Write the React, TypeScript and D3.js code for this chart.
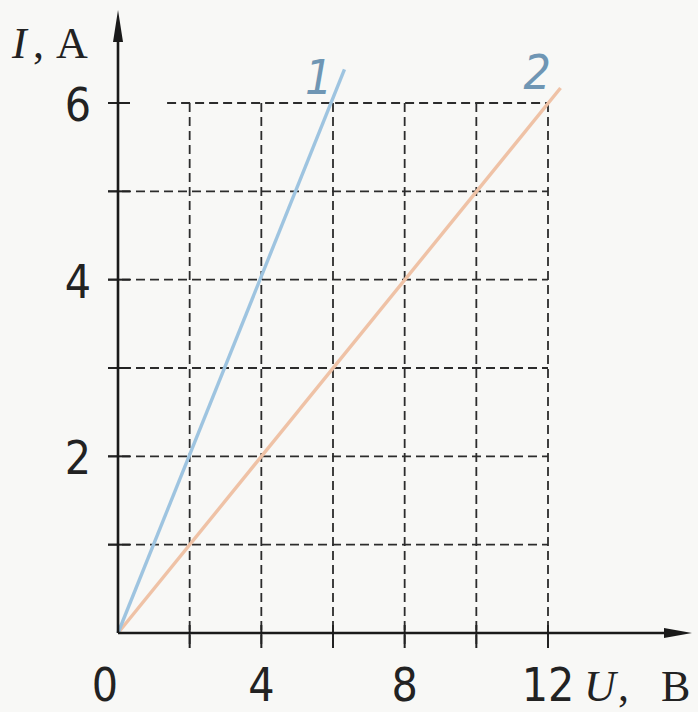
import React from 'react';
import * as d3 from 'd3';

// values
const uTickLabels = [0, 4, 8, 12];
const iTickLabels = [2, 4, 6];
const uGrid = [2, 4, 6, 8, 10, 12];
const iGrid = [1, 2, 3, 4, 5, 6];
const curve1 = [
  { u: 0, i: 0 },
  { u: 6.32, i: 6.38 },
];
const curve2 = [
  { u: 0, i: 0 },
  { u: 12.35, i: 6.17 },
];
const curveLabels = [
  { text: '1', u: 5.6, i: 6.3 },
  { text: '2', u: 11.7, i: 6.35 },
];

const W = 698;
const H = 712;
const sans = "'Liberation Sans Narrow', 'DejaVu Sans Condensed', Arial, sans-serif";
const serif = "'Liberation Serif', 'Times New Roman', serif";

export default function App() {
  const x = d3.scaleLinear().domain([0, 12]).range([118, 548]);
  const y = d3.scaleLinear().domain([0, 6]).range([633, 103]);

  const line = d3
    .line<{ u: number; i: number }>()
    .x(d => x(d.u))
    .y(d => y(d.i));

  const gridColor = '#2c2c2c';
  const dash = '9 5';

  return (
    <div style={{ position: 'absolute', left: 0, top: 0 }}>
      <svg width={W} height={H} style={{ display: 'block', background: '#f8f8f6' }}>
        {/* horizontal grid */}
        {iGrid.map(v => (
          <g key={'h' + v}>
            <line
              x1={v === 6 ? x(1.37) : x(0) - 10}
              x2={x(12)}
              y1={y(v)}
              y2={y(v)}
              stroke={gridColor}
              strokeWidth={1.8}
              strokeDasharray={dash}
            />
            <line x1={x(0) - 10} x2={x(0) + 12} y1={y(v)} y2={y(v)} stroke="#222" strokeWidth={2} />
          </g>
        ))}
        {/* vertical grid */}
        {uGrid.map(v => (
          <line
            key={'v' + v}
            x1={x(v)}
            x2={x(v)}
            y1={y(6)}
            y2={y(0) + 15}
            stroke={gridColor}
            strokeWidth={1.8}
            strokeDasharray={dash}
          />
        ))}
        {uGrid.map(v => (
          <line key={'t' + v} x1={x(v)} x2={x(v)} y1={y(0) - 8} y2={y(0) + 15} stroke="#222" strokeWidth={2} />
        ))}

        {/* curves */}
        <path d={line(curve2) ?? ''} fill="none" stroke="#efc2a6" strokeWidth={3.4} />
        <path d={line(curve1) ?? ''} fill="none" stroke="#9ec4e0" strokeWidth={3.4} />

        {/* axes */}
        <line x1={x(0)} x2={x(0)} y1={y(0)} y2={38} stroke="#1a1a1a" strokeWidth={2.6} />
        <path d={`M${x(0)},10 L${x(0) - 5},42 L${x(0) + 5},42 Z`} fill="#1a1a1a" />
        <line x1={x(0)} x2={668} y1={y(0)} y2={y(0)} stroke="#1a1a1a" strokeWidth={2.6} />
        <path d={`M692,${y(0)} L664,${y(0) - 5} L664,${y(0) + 5} Z`} fill="#1a1a1a" />

        {/* tick labels */}
        {iTickLabels.map(v => (
          <text
            key={'il' + v}
            x={x(0) - 27}
            y={y(v) + 18}
            textAnchor="end"
            fontFamily={sans}
            fontSize={46}
            fill="#222"
          >
            {v}
          </text>
        ))}
        {uTickLabels.map(v => (
          <text
            key={'ul' + v}
            x={v === 0 ? x(0) - 13 : x(v)}
            y={701}
            textAnchor="middle"
            fontFamily={sans}
            fontSize={46}
            fill="#222"
          >
            {v}
          </text>
        ))}

        {/* axis titles */}
        <text y={58} fontFamily={serif} fontSize={44} fill="#222">
          <tspan x={12} fontStyle="italic">I</tspan>
          <tspan x={33}>,</tspan>
          <tspan x={56}>A</tspan>
        </text>
        <text y={701} fontFamily={serif} fontSize={44} fill="#222">
          <tspan x={584} fontStyle="italic">U</tspan>
          <tspan x={618}>,</tspan>
          <tspan x={661}>B</tspan>
        </text>

        {/* curve labels */}
        {curveLabels.map(l => (
          <text
            key={l.text}
            x={x(l.u)}
            y={y(l.i) + 17}
            textAnchor="middle"
            fontFamily={sans}
            fontStyle="italic"
            fontSize={48}
            fill="#6f96b4"
          >
            {l.text}
          </text>
        ))}
      </svg>
    </div>
  );
}
